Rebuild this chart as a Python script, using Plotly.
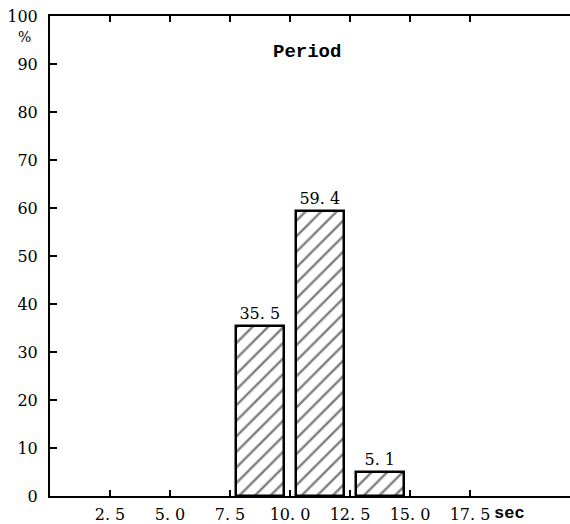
import plotly.graph_objects as go

# period histogram (percent of waves per period class)
bin_centers = [8.75, 11.25, 13.75]
percent = [35.5, 59.4, 5.1]
bar_labels = ["35. 5", "59. 4", "5. 1"]

x_ticks = [2.5, 5.0, 7.5, 10.0, 12.5, 15.0, 17.5]
x_tick_text = ["2. 5", "5. 0", "7. 5", "10. 0", "12. 5", "15. 0", "17. 5"]
y_ticks = list(range(0, 101, 10))

W, H = 570, 524
L, R, T, B = 50, 0, 16, 28
x_max = (W - L - R) / 24.0  # 24 px per second

num_font = "DejaVu Serif, Liberation Serif, serif"
mono_font = "Liberation Mono, DejaVu Sans Mono, monospace"

fig = go.Figure()
fig.add_trace(go.Bar(
    x=bin_centers,
    y=percent,
    width=2.0,
    text=bar_labels,
    textposition="outside",
    cliponaxis=False,
    textfont=dict(size=16, color="black", family=num_font),
    marker=dict(
        color="white",
        line=dict(color="black", width=2.5),
        pattern=dict(shape="/", fgcolor="black", bgcolor="white", size=11, solidity=0.22),
    ),
    showlegend=False,
))

fig.add_annotation(x=10.7, y=92.5, text="<b>Period</b>", showarrow=False,
                   font=dict(size=19, color="black", family=mono_font))
fig.add_annotation(xref="paper", yref="y", x=(16 - L) / (W - L - R), y=95.6, text="%",
                   showarrow=False, font=dict(size=14, color="black", family=num_font))
fig.add_annotation(xref="x", yref="paper", x=(492 - L) / 24.0, y=0, yshift=-29,
                   xanchor="left", text="<b>sec</b>", showarrow=False,
                   font=dict(size=17, color="black", family=mono_font))

fig.update_layout(
    width=W, height=H,
    margin=dict(l=L, r=R, t=T, b=B),
    plot_bgcolor="white",
    paper_bgcolor="white",
    font=dict(family=num_font, size=16, color="black"),
    xaxis=dict(
        range=[0, x_max], tickvals=x_ticks, ticktext=x_tick_text,
        ticks="inside", ticklen=6, tickwidth=2, tickcolor="black",
        showline=True, linecolor="black", linewidth=2, mirror="ticks",
        showgrid=False, zeroline=False, automargin=False,
        ticklabelstandoff=3,
    ),
    yaxis=dict(
        range=[0, 100], tickvals=y_ticks,
        ticks="inside", ticklen=7, tickwidth=2, tickcolor="black",
        showline=True, linecolor="black", linewidth=2,
        ticklabelstandoff=7, automargin=False,
        showgrid=False, zeroline=False,
    ),
    bargap=0,
)

fig.write_html("out.html", config={"displayModeBar": False},
               post_script="document.body.style.margin='0';")
